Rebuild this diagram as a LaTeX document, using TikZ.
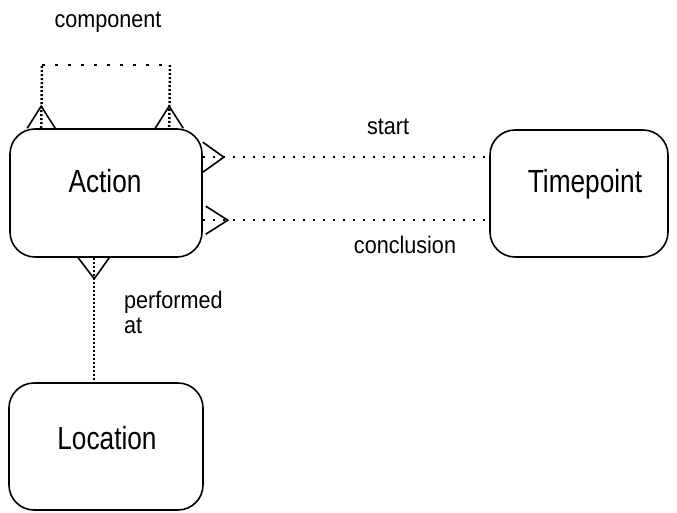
\documentclass[tikz,border=0pt]{standalone}
\usepackage{fontspec}
\usepackage{graphicx}
\setmainfont{Liberation Sans}
\usetikzlibrary{calc}
\begin{document}
\begin{tikzpicture}[x=1pt,y=-1pt,
  entity/.style={draw,line width=1.6pt,rounded corners=25pt,inner sep=0pt},
  bigtext/.style={anchor=base,inner sep=0pt,font=\fontsize{32}{36}\selectfont},
  smalltext/.style={anchor=base,inner sep=0pt,font=\fontsize{24}{25}\selectfont},
  hdots/.style={line width=2.5pt,dash pattern=on 2.5pt off 7.5pt},
  topdots/.style={line width=2.5pt,dash pattern=on 2.5pt off 10.5pt},
  vdots/.style={line width=2.5pt,dash pattern=on 2pt off 2pt},
  crow/.style={line width=1.6pt}]
\useasboundingbox (0,0) rectangle (677,513);
% entities
\node[entity,minimum width=192pt,minimum height=128pt] (act) at (106,193) {};
\node[entity,minimum width=178pt,minimum height=127pt] (tp) at (579,193.5) {};
\node[entity,minimum width=194pt,minimum height=127pt] (loc) at (106,446.5) {};
\node[bigtext] (actT) at (105,193) {\scalebox{0.82}[1]{Action}};
\node[bigtext] (tpT) at (585,193) {\scalebox{0.82}[1]{Timepoint}};
\node[bigtext] (locT) at (107,449) {\scalebox{0.82}[1]{Location}};
% component loop
\coordinate (c1) at ($(act.north west)+(32,0)$);
\coordinate (c2) at ($(act.north west)+(160,0)$);
\coordinate (c1t) at (42,65);
\coordinate (c2t) at (170,65);
\draw[vdots] (c1) -- (c1t);
\draw[topdots] (c1t) -- (c2t);
\draw[vdots] (c2t) -- (c2);
\draw[crow] ($(c1)+(-14,0)$) -- ($(c1)+(0,-22)$) -- ($(c1)+(14,0)$);
\draw[crow] ($(c2)+(-14,0)$) -- ($(c2)+(0,-22)$) -- ($(c2)+(14,0)$);
\node[smalltext] (compL) at (108,28) {\scalebox{0.9}[1]{component}};
% start
\coordinate (s1) at ($(act.north east)+(0,29)$);
\coordinate (s2) at (tp.west |- s1);
\draw[hdots] (s1) -- (s2);
\draw[crow] ($(s1)+(0,-15)$) -- ($(s1)+(21,0)$) -- ($(s1)+(0,15)$);
\node[smalltext] (startL) at (388,135) {\scalebox{0.9}[1]{start}};
% conclusion
\coordinate (e1) at ($(act.north east)+(0,92)$);
\coordinate (e2) at (tp.west |- e1);
\draw[hdots] (e1) -- (e2);
\draw[crow] ($(e1)+(3,-14)$) -- ($(e1)+(25,0)$) -- ($(e1)+(3,14)$);
\node[smalltext] (conL) at (405,253) {\scalebox{0.9}[1]{conclusion}};
% performed at
\coordinate (p1) at ($(act.south west)+(85,0)$);
\coordinate (p2) at (p1 |- loc.north);
\draw[vdots] (p1) -- (p2);
\draw[crow] ($(p1)+(-16,0)$) -- ($(p1)+(0,21)$) -- ($(p1)+(15,0)$);
\node[smalltext,anchor=base west] (perfL) at (124,308) {\scalebox{0.9}[1]{performed}};
\node[smalltext,anchor=base west] (atL) at (124,333) {\scalebox{0.9}[1]{at}};
\end{tikzpicture}
\end{document}
